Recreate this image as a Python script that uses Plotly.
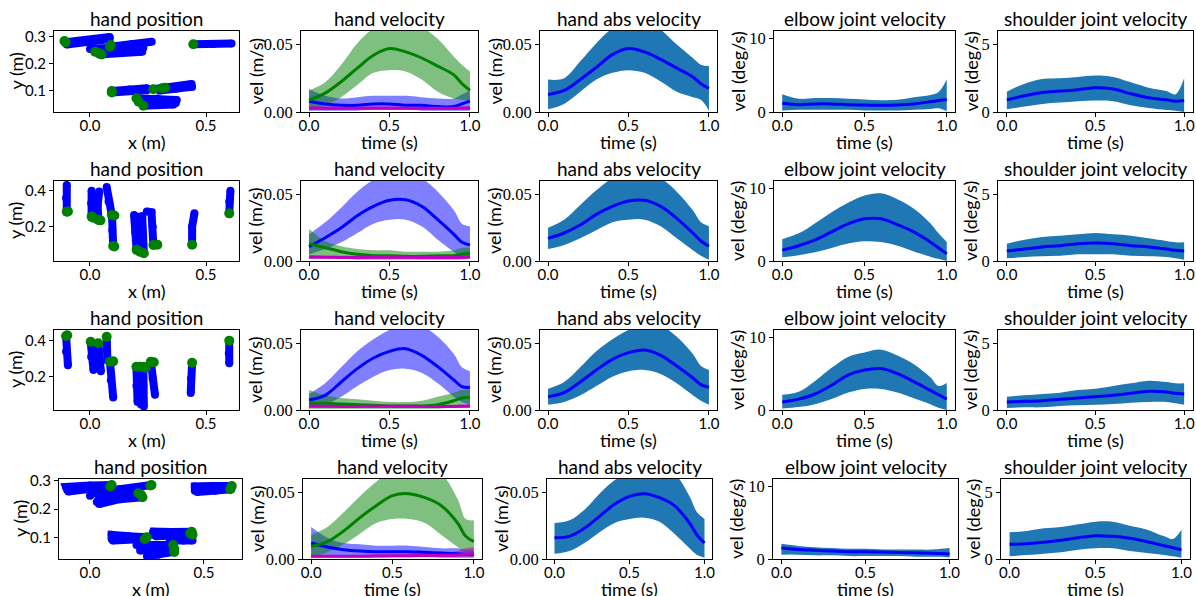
import plotly.graph_objects as go

W, H = 1196, 596

# ---------------- data ----------------
T = [0.0, 0.1, 0.2, 0.3, 0.4, 0.5, 0.6, 0.7, 0.8, 0.9, 0.95, 1.0]

# hand velocity, row 1..4 (blue, green, magenta components)
hv1_blue_mean = [0.008, 0.006, 0.005, 0.005, 0.006, 0.006, 0.005, 0.005, 0.004, 0.004, 0.006, 0.008]
hv1_blue_hi = [0.017, 0.012, 0.010, 0.011, 0.012, 0.012, 0.012, 0.011, 0.010, 0.010, 0.013, 0.016]
hv1_blue_lo = [0.001, 0.001, 0.001, 0.001, 0.002, 0.002, 0.002, 0.001, 0.001, 0.001, 0.001, 0.001]
hv1_green_mean = [0.009, 0.014, 0.0225, 0.0325, 0.042, 0.047, 0.0445, 0.040, 0.034, 0.0275, 0.021, 0.016]
hv1_green_hi = [0.016, 0.022, 0.035, 0.051, 0.062, 0.068, 0.068, 0.063, 0.054, 0.041, 0.035, 0.030]
hv1_green_lo = [0.001, 0.005, 0.011, 0.020, 0.029, 0.031, 0.030, 0.024, 0.015, 0.010, 0.009, 0.008]
hv1_mag_mean = [0.003, 0.0028, 0.0027, 0.0027, 0.0028, 0.0028, 0.0028, 0.0027, 0.0027, 0.0027, 0.0028, 0.003]
hv1_mag_hi = [0.0045, 0.004, 0.004, 0.004, 0.004, 0.004, 0.004, 0.004, 0.004, 0.004, 0.0042, 0.0045]
hv1_mag_lo = [0.0015, 0.0015, 0.0015, 0.0015, 0.0015, 0.0015, 0.0015, 0.0015, 0.0015, 0.0015, 0.0015, 0.0015]

hv2_blue_mean = [0.0108, 0.0175, 0.025, 0.034, 0.041, 0.0455, 0.046, 0.041, 0.031, 0.020, 0.014, 0.012]
hv2_blue_hi = [0.020, 0.029, 0.040, 0.052, 0.061, 0.066, 0.066, 0.062, 0.052, 0.038, 0.028, 0.026]
hv2_blue_lo = [0.005, 0.009, 0.014, 0.021, 0.028, 0.031, 0.031, 0.026, 0.016, 0.007, 0.003, 0.002]
hv2_green_mean = [0.013, 0.010, 0.007, 0.005, 0.004, 0.004, 0.0035, 0.0035, 0.004, 0.004, 0.005, 0.006]
hv2_green_hi = [0.024, 0.015, 0.011, 0.009, 0.008, 0.008, 0.007, 0.007, 0.007, 0.008, 0.010, 0.010]
hv2_green_lo = [0.003, 0.003, 0.002, 0.001, 0.001, 0.001, 0.001, 0.001, 0.001, 0.001, 0.001, 0.002]
hv2_mag_mean = [0.003, 0.0028, 0.0027, 0.0027, 0.0028, 0.0028, 0.0028, 0.0027, 0.0027, 0.0027, 0.0028, 0.003]
hv2_mag_hi = [0.0045, 0.004, 0.004, 0.004, 0.004, 0.004, 0.004, 0.004, 0.004, 0.004, 0.0042, 0.0045]
hv2_mag_lo = [0.0015, 0.0015, 0.0015, 0.0015, 0.0015, 0.0015, 0.0015, 0.0015, 0.0015, 0.0015, 0.0015, 0.0015]

hv3_blue_mean = [0.0075, 0.011, 0.021, 0.031, 0.039, 0.044, 0.046, 0.041, 0.0325, 0.0225, 0.0175, 0.017]
hv3_blue_hi = [0.012, 0.020, 0.032, 0.044, 0.053, 0.060, 0.064, 0.063, 0.055, 0.042, 0.032, 0.029]
hv3_blue_lo = [0.002, 0.004, 0.010, 0.018, 0.025, 0.030, 0.031, 0.028, 0.020, 0.010, 0.006, 0.004]
hv3_green_mean = [0.005, 0.005, 0.0045, 0.004, 0.0035, 0.003, 0.003, 0.003, 0.004, 0.007, 0.009, 0.0095]
hv3_green_hi = [0.015, 0.011, 0.009, 0.008, 0.007, 0.006, 0.006, 0.007, 0.010, 0.013, 0.015, 0.016]
hv3_green_lo = [0.001, 0.001, 0.001, 0.001, 0.001, 0.001, 0.001, 0.001, 0.001, 0.002, 0.004, 0.004]
hv3_mag_mean = [0.003, 0.0028, 0.0027, 0.0027, 0.0028, 0.0028, 0.0028, 0.0027, 0.0027, 0.0027, 0.0028, 0.003]
hv3_mag_hi = [0.0045, 0.004, 0.004, 0.004, 0.004, 0.004, 0.004, 0.004, 0.004, 0.004, 0.0042, 0.0045]
hv3_mag_lo = [0.0015, 0.0015, 0.0015, 0.0015, 0.0015, 0.0015, 0.0015, 0.0015, 0.0015, 0.0015, 0.0015, 0.0015]

hv4_blue_mean = [0.012, 0.009, 0.007, 0.006, 0.0055, 0.0055, 0.0055, 0.005, 0.0045, 0.004, 0.0035, 0.0035]
hv4_blue_hi = [0.024, 0.016, 0.012, 0.011, 0.010, 0.010, 0.010, 0.009, 0.008, 0.008, 0.007, 0.007]
hv4_blue_lo = [0.001, 0.002, 0.002, 0.002, 0.002, 0.002, 0.002, 0.002, 0.001, 0.001, 0.001, 0.001]
hv4_green_mean = [0.0094, 0.013, 0.021, 0.031, 0.040, 0.0475, 0.049, 0.046, 0.040, 0.027, 0.017, 0.013]
hv4_green_hi = [0.018, 0.024, 0.035, 0.047, 0.058, 0.066, 0.069, 0.069, 0.064, 0.045, 0.030, 0.029]
hv4_green_lo = [0.001, 0.005, 0.011, 0.019, 0.027, 0.030, 0.030, 0.027, 0.018, 0.009, 0.005, 0.004]
hv4_mag_mean = [0.002, 0.002, 0.002, 0.002, 0.0022, 0.0024, 0.0025, 0.0026, 0.0028, 0.003, 0.0035, 0.004]
hv4_mag_hi = [0.003, 0.003, 0.003, 0.003, 0.0035, 0.0035, 0.004, 0.004, 0.0045, 0.006, 0.008, 0.009]
hv4_mag_lo = [0.001, 0.001, 0.001, 0.001, 0.0012, 0.0012, 0.0012, 0.0013, 0.0014, 0.0015, 0.0015, 0.0015]

# hand abs velocity
abs1_mean = [0.013, 0.016, 0.024, 0.033, 0.0425, 0.047, 0.0445, 0.039, 0.0325, 0.026, 0.021, 0.0175]
abs1_hi = [0.024, 0.025, 0.0375, 0.051, 0.062, 0.068, 0.068, 0.061, 0.050, 0.040, 0.035, 0.034]
abs1_lo = [0.002, 0.006, 0.015, 0.024, 0.029, 0.031, 0.029, 0.0225, 0.015, 0.011, 0.009, 0.001]
abs2_mean = [0.017, 0.021, 0.027, 0.035, 0.041, 0.045, 0.0455, 0.041, 0.032, 0.021, 0.015, 0.011]
abs2_hi = [0.025, 0.031, 0.042, 0.053, 0.062, 0.066, 0.066, 0.062, 0.052, 0.038, 0.029, 0.026]
abs2_lo = [0.009, 0.012, 0.017, 0.023, 0.029, 0.031, 0.031, 0.026, 0.017, 0.008, 0.004, 0.001]
abs3_mean = [0.010, 0.013, 0.021, 0.030, 0.038, 0.043, 0.045, 0.041, 0.033, 0.024, 0.019, 0.017]
abs3_hi = [0.016, 0.021, 0.032, 0.044, 0.053, 0.060, 0.064, 0.063, 0.055, 0.042, 0.033, 0.030]
abs3_lo = [0.004, 0.006, 0.011, 0.018, 0.025, 0.029, 0.030, 0.027, 0.020, 0.011, 0.007, 0.004]
abs4_mean = [0.016, 0.017, 0.023, 0.032, 0.041, 0.047, 0.049, 0.046, 0.040, 0.027, 0.018, 0.012]
abs4_hi = [0.027, 0.029, 0.037, 0.049, 0.059, 0.066, 0.069, 0.068, 0.064, 0.047, 0.035, 0.030]
abs4_lo = [0.004, 0.006, 0.012, 0.020, 0.027, 0.030, 0.031, 0.028, 0.019, 0.008, 0.003, 0.001]

# elbow joint velocity (deg/s)
elb1_mean = [1.2, 1.0, 1.1, 1.1, 1.0, 0.95, 0.9, 0.95, 1.1, 1.4, 1.55, 1.7]
elb1_hi = [2.4, 1.8, 1.9, 1.9, 1.8, 1.7, 1.6, 1.65, 2.0, 2.3, 2.7, 4.4]
elb1_lo = [0.2, 0.3, 0.3, 0.3, 0.3, 0.2, 0.2, 0.2, 0.3, 0.4, 0.5, 0.1]
elb2_mean = [1.5, 2.1, 2.9, 4.0, 5.1, 5.8, 5.8, 5.0, 4.0, 2.6, 1.8, 1.0]
elb2_hi = [3.0, 3.8, 5.2, 6.7, 8.0, 9.0, 9.3, 8.5, 7.2, 5.2, 3.8, 2.6]
elb2_lo = [0.5, 0.8, 1.2, 1.8, 2.4, 2.7, 2.6, 2.1, 1.3, 0.6, 0.3, 0.0]
elb3_mean = [1.1, 1.5, 2.2, 3.4, 4.8, 5.5, 5.7, 5.0, 3.9, 2.7, 2.1, 1.5]
elb3_hi = [2.1, 2.5, 4.0, 5.8, 7.3, 7.9, 8.3, 7.5, 6.3, 4.5, 3.3, 3.7]
elb3_lo = [0.2, 0.4, 0.8, 1.5, 2.4, 2.9, 2.9, 2.4, 1.6, 0.8, 0.3, 0.0]
elb4_mean = [1.5, 1.3, 1.2, 1.1, 1.0, 1.0, 0.95, 0.9, 0.85, 0.8, 0.75, 0.7]
elb4_hi = [2.1, 1.8, 1.6, 1.5, 1.4, 1.4, 1.3, 1.3, 1.3, 1.3, 1.4, 1.5]
elb4_lo = [0.6, 0.6, 0.5, 0.5, 0.4, 0.4, 0.4, 0.4, 0.3, 0.3, 0.3, 0.2]

# shoulder joint velocity (deg/s)
sho1_mean = [0.9, 1.2, 1.45, 1.55, 1.65, 1.8, 1.7, 1.35, 1.05, 0.9, 0.8, 0.85]
sho1_hi = [1.5, 2.1, 2.45, 2.5, 2.6, 2.7, 2.6, 2.2, 1.8, 1.55, 1.3, 2.5]
sho1_lo = [0.2, 0.4, 0.6, 0.7, 0.8, 0.85, 0.8, 0.5, 0.3, 0.15, 0.1, 0.0]
sho2_mean = [0.75, 0.9, 1.05, 1.15, 1.3, 1.35, 1.3, 1.15, 1.05, 0.9, 0.8, 0.75]
sho2_hi = [1.3, 1.6, 1.8, 1.9, 2.0, 2.1, 2.0, 1.9, 1.7, 1.5, 1.4, 1.4]
sho2_lo = [0.2, 0.3, 0.35, 0.4, 0.5, 0.5, 0.5, 0.4, 0.35, 0.3, 0.2, 0.1]
sho3_mean = [0.6, 0.65, 0.7, 0.8, 0.9, 1.0, 1.1, 1.25, 1.4, 1.35, 1.25, 1.2]
sho3_hi = [1.0, 1.1, 1.2, 1.3, 1.5, 1.6, 1.8, 2.0, 2.2, 2.1, 2.0, 2.0]
sho3_lo = [0.15, 0.2, 0.2, 0.3, 0.35, 0.4, 0.45, 0.55, 0.6, 0.6, 0.5, 0.4]
sho4_mean = [1.1, 1.15, 1.25, 1.4, 1.6, 1.75, 1.7, 1.55, 1.3, 1.0, 0.85, 0.7]
sho4_hi = [2.0, 2.1, 2.3, 2.4, 2.6, 2.8, 2.8, 2.5, 2.2, 1.7, 1.5, 2.2]
sho4_lo = [0.2, 0.3, 0.4, 0.5, 0.7, 0.8, 0.8, 0.6, 0.45, 0.3, 0.2, 0.1]

# hand position trajectories (m) and start points
pos1_traj_x = [[-0.105, 0.0, 0.085], [-0.10, 0.0, 0.085], [0.086, 0.18, 0.266], [0.0, 0.12, 0.23],
               [0.022, 0.12, 0.225], [0.04, 0.13, 0.225], [0.445, 0.53, 0.61], [0.094, 0.17, 0.245],
               [0.094, 0.17, 0.245], [0.273, 0.36, 0.438], [0.30, 0.37, 0.44], [0.20, 0.29, 0.374],
               [0.21, 0.29, 0.37], [0.23, 0.30, 0.36]]
pos1_traj_y = [[0.280, 0.288, 0.300], [0.272, 0.280, 0.292], [0.264, 0.274, 0.282], [0.255, 0.262, 0.260],
               [0.245, 0.250, 0.253], [0.235, 0.242, 0.245], [0.273, 0.274, 0.276], [0.100, 0.105, 0.110],
               [0.094, 0.100, 0.103], [0.106, 0.115, 0.126], [0.102, 0.108, 0.115], [0.073, 0.072, 0.066],
               [0.060, 0.060, 0.055], [0.045, 0.050, 0.050]]
pos1_start_x = [-0.105, -0.11, 0.086, 0.09, 0.022, 0.04, 0.05, 0.445, 0.094, 0.094, 0.273, 0.31, 0.323, 0.20, 0.21, 0.23]
pos1_start_y = [0.280, 0.285, 0.264, 0.270, 0.245, 0.240, 0.235, 0.273, 0.100, 0.094, 0.106, 0.110, 0.112, 0.073, 0.060, 0.045]

pos2_traj_x = [[-0.10, -0.103, -0.10], [0.007, 0.005, 0.007], [0.036, 0.033, 0.04], [0.094, 0.08, 0.072],
               [0.10, 0.096, 0.095], [0.201, 0.195, 0.19], [0.215, 0.212, 0.21], [0.232, 0.228, 0.225],
               [0.273, 0.27, 0.265, 0.245], [0.44, 0.44, 0.45], [0.60, 0.60, 0.605]]
pos2_traj_y = [[0.283, 0.36, 0.432], [0.256, 0.33, 0.40], [0.237, 0.32, 0.395], [0.265, 0.34, 0.42],
               [0.093, 0.18, 0.26], [0.071, 0.17, 0.265], [0.060, 0.16, 0.255], [0.052, 0.16, 0.26],
               [0.098, 0.20, 0.28, 0.285], [0.10, 0.20, 0.274], [0.274, 0.34, 0.40]]
pos2_start_x = [-0.10, -0.095, 0.007, 0.015, 0.036, 0.045, 0.094, 0.105, 0.10, 0.105, 0.201, 0.215, 0.232, 0.273, 0.29, 0.44, 0.60]
pos2_start_y = [0.283, 0.285, 0.256, 0.250, 0.237, 0.235, 0.265, 0.262, 0.093, 0.090, 0.071, 0.060, 0.052, 0.098, 0.100, 0.100, 0.274]

pos3_traj_x = [[-0.103, -0.103, -0.095], [0.003, 0.005, 0.015], [0.036, 0.038, 0.047], [0.072, 0.072, 0.075],
               [0.086, 0.09, 0.10], [0.20, 0.20, 0.205], [0.215, 0.215, 0.22], [0.23, 0.23, 0.232],
               [0.262, 0.27, 0.28], [0.44, 0.435, 0.434], [0.60, 0.598, 0.60]]
pos3_traj_y = [[0.426, 0.34, 0.264], [0.394, 0.31, 0.237], [0.385, 0.30, 0.23], [0.422, 0.35, 0.29],
               [0.283, 0.18, 0.085], [0.255, 0.15, 0.06], [0.255, 0.15, 0.045], [0.255, 0.15, 0.035],
               [0.283, 0.19, 0.10], [0.277, 0.19, 0.11], [0.40, 0.33, 0.275]]
pos3_start_x = [-0.103, -0.098, 0.003, 0.036, 0.072, 0.086, 0.10, 0.20, 0.215, 0.23, 0.24, 0.262, 0.275, 0.44, 0.60]
pos3_start_y = [0.426, 0.430, 0.394, 0.385, 0.422, 0.283, 0.285, 0.255, 0.255, 0.255, 0.250, 0.283, 0.280, 0.277, 0.400]

pos4_traj_x = [[-0.10, -0.105, 0.0, 0.095], [-0.095, 0.0, 0.09], [0.0, 0.01, 0.13, 0.27],
               [0.03, 0.04, 0.13, 0.212], [0.04, 0.13, 0.23], [0.46, 0.46, 0.54, 0.622], [0.47, 0.55, 0.62],
               [0.095, 0.095, 0.17, 0.249], [0.10, 0.17, 0.24], [0.275, 0.278, 0.36, 0.446],
               [0.29, 0.36, 0.45], [0.35, 0.41, 0.45], [0.204, 0.28, 0.365], [0.22, 0.29, 0.37], [0.25, 0.30, 0.37]]
pos4_traj_y = [[0.268, 0.278, 0.283, 0.285], [0.262, 0.272, 0.28], [0.247, 0.255, 0.27, 0.285],
               [0.225, 0.235, 0.245, 0.256], [0.218, 0.235, 0.242], [0.265, 0.28, 0.281, 0.281], [0.26, 0.265, 0.27],
               [0.095, 0.11, 0.105, 0.101], [0.09, 0.095, 0.095], [0.11, 0.121, 0.12, 0.121],
               [0.105, 0.105, 0.11], [0.09, 0.09, 0.09], [0.074, 0.074, 0.074], [0.055, 0.06, 0.06], [0.035, 0.04, 0.05]]
pos4_start_x = [0.095, 0.09, 0.27, 0.265, 0.212, 0.23, 0.225, 0.622, 0.615, 0.249, 0.24, 0.446, 0.45, 0.44, 0.365, 0.37, 0.37]
pos4_start_y = [0.285, 0.28, 0.285, 0.283, 0.256, 0.242, 0.250, 0.281, 0.270, 0.101, 0.095, 0.121, 0.11, 0.115, 0.074, 0.06, 0.05]

titles = ["hand position", "hand velocity", "hand abs velocity", "elbow joint velocity", "shoulder joint velocity"]
xlabels = ["x (m)", "time (s)", "time (s)", "time (s)", "time (s)"]
ylabels = ["y (m)", "vel (m/s)", "vel (m/s)", "vel (deg/s)", "vel (deg/s)"]

# ---------------- layout geometry (pixels) ----------------
cols_top = [(54, 239), (301, 478), (540, 717), (774, 955), (998, 1193)]
cols_bot = [(59, 242), (303, 482), (547, 712), (773, 958), (1001, 1190)]
rows = [(31, 112), (181, 261), (330, 410), (479, 559)]
ylab_off = [39, 46, 46, 37, 28]

pos_xr = [[-0.155, 0.642], [-0.155, 0.642], [-0.155, 0.642], [-0.136, 0.667]]
pos_yr = [[0.022, 0.322], [0.009, 0.454], [0.015, 0.459], [0.025, 0.306]]
pos_yt = [[0.1, 0.2, 0.3], [0.2, 0.4], [0.2, 0.4], [0.1, 0.2, 0.3]]

SANS = "Lato"
SERIF = "Liberation Serif"

fig = go.Figure()
layout = dict(template="none", width=W, height=H, autosize=False, margin=dict(l=0, r=0, t=0, b=0, pad=0),
              plot_bgcolor="white", paper_bgcolor="white", showlegend=False)
annotations = []

def ax_common():
    return dict(showline=True, mirror=True, linecolor="black", linewidth=1,
                ticks="outside", ticklen=4, tickcolor="black", tickwidth=1,
                showgrid=False, zeroline=False, automargin=False)

hv = [
    [(hv1_blue_mean, hv1_blue_lo, hv1_blue_hi), (hv1_green_mean, hv1_green_lo, hv1_green_hi), (hv1_mag_mean, hv1_mag_lo, hv1_mag_hi)],
    [(hv2_blue_mean, hv2_blue_lo, hv2_blue_hi), (hv2_green_mean, hv2_green_lo, hv2_green_hi), (hv2_mag_mean, hv2_mag_lo, hv2_mag_hi)],
    [(hv3_blue_mean, hv3_blue_lo, hv3_blue_hi), (hv3_green_mean, hv3_green_lo, hv3_green_hi), (hv3_mag_mean, hv3_mag_lo, hv3_mag_hi)],
    [(hv4_blue_mean, hv4_blue_lo, hv4_blue_hi), (hv4_green_mean, hv4_green_lo, hv4_green_hi), (hv4_mag_mean, hv4_mag_lo, hv4_mag_hi)],
]
absd = [(abs1_mean, abs1_lo, abs1_hi), (abs2_mean, abs2_lo, abs2_hi), (abs3_mean, abs3_lo, abs3_hi), (abs4_mean, abs4_lo, abs4_hi)]
elbd = [(elb1_mean, elb1_lo, elb1_hi), (elb2_mean, elb2_lo, elb2_hi), (elb3_mean, elb3_lo, elb3_hi), (elb4_mean, elb4_lo, elb4_hi)]
shod = [(sho1_mean, sho1_lo, sho1_hi), (sho2_mean, sho2_lo, sho2_hi), (sho3_mean, sho3_lo, sho3_hi), (sho4_mean, sho4_lo, sho4_hi)]
posd = [(pos1_traj_x, pos1_traj_y, pos1_start_x, pos1_start_y),
        (pos2_traj_x, pos2_traj_y, pos2_start_x, pos2_start_y),
        (pos3_traj_x, pos3_traj_y, pos3_start_x, pos3_start_y),
        (pos4_traj_x, pos4_traj_y, pos4_start_x, pos4_start_y)]

BLUE = "#0000ff"
GREEN = "#008000"
MAG = "#bf00bf"
BAND = {BLUE: "rgba(0,0,255,0.5)", GREEN: "rgba(0,128,0,0.5)", MAG: "rgba(191,0,191,0.5)"}

def band(xa, ya, lo, hi, fillcolor):
    fig.add_trace(go.Scatter(x=T, y=lo, mode="lines", line=dict(width=0, shape="spline"),
                             xaxis=xa, yaxis=ya, hoverinfo="skip"))
    fig.add_trace(go.Scatter(x=T, y=hi, mode="lines", line=dict(width=0, shape="spline"),
                             fill="tonexty", fillcolor=fillcolor, xaxis=xa, yaxis=ya, hoverinfo="skip"))

def meanline(xa, ya, m, color):
    fig.add_trace(go.Scatter(x=T, y=m, mode="lines", line=dict(width=3, color=color, shape="spline"),
                             xaxis=xa, yaxis=ya, hoverinfo="skip"))

for r in range(4):
    cols = cols_bot if r == 3 else cols_top
    top, bot = rows[r]
    for c in range(5):
        idx = r * 5 + c + 1
        xa = "x" if idx == 1 else f"x{idx}"
        ya = "y" if idx == 1 else f"y{idx}"
        left, right = cols[c]
        xd = [left / W, right / W]
        yd = [1 - bot / H, 1 - top / H]
        xax = ax_common()
        yax = ax_common()
        xax.update(domain=xd, anchor=ya, ticklabelstandoff=-4,
                   tickfont=dict(family=SANS, size=15, color="black"))
        yax.update(domain=yd, anchor=xa)
        if c == 0:
            xax.update(range=pos_xr[r], tickvals=[0.0, 0.5], ticktext=["0.0", "0.5"])
            yax.update(range=pos_yr[r], tickvals=pos_yt[r], ticktext=[f"{v:.1f}" for v in pos_yt[r]],
                       tickfont=dict(family=SANS, size=15, color="black"))
            tx, ty, sx, sy = posd[r]
            for xs, ys in zip(tx, ty):
                fig.add_trace(go.Scatter(x=xs, y=ys, mode="lines+markers", line=dict(width=8, color=BLUE),
                                         marker=dict(size=8, color=BLUE, line=dict(width=0)),
                                         xaxis=xa, yaxis=ya, hoverinfo="skip"))
            fig.add_trace(go.Scatter(x=sx, y=sy, mode="markers", marker=dict(size=10, color=GREEN, line=dict(width=0)),
                                     xaxis=xa, yaxis=ya, hoverinfo="skip"))
        else:
            xax.update(range=[-0.05, 1.05], tickvals=[0.0, 0.5, 1.0], ticktext=["0.0", "0.5", "1.0"])
            if c == 1:
                yax.update(range=[0, 0.06], tickvals=[0.0, 0.05], ticktext=["0.00", "0.05"])
                for (m, lo, hi), col in zip(hv[r], [BLUE, GREEN, MAG]):
                    band(xa, ya, lo, hi, BAND[col])
                for (m, lo, hi), col in zip(hv[r], [BLUE, GREEN, MAG]):
                    meanline(xa, ya, m, col)
            elif c == 2:
                yax.update(range=[0, 0.06], tickvals=[0.0, 0.05], ticktext=["0.00", "0.05"])
                m, lo, hi = absd[r]
                band(xa, ya, lo, hi, "#1f77b4")
                meanline(xa, ya, m, BLUE)
            elif c == 3:
                yax.update(range=[0, 11], tickvals=[0, 10], ticktext=["0", "10"])
                m, lo, hi = elbd[r]
                band(xa, ya, lo, hi, "#1f77b4")
                meanline(xa, ya, m, BLUE)
            else:
                yax.update(range=[0, 6], tickvals=[0, 5], ticktext=["0", "5"])
                m, lo, hi = shod[r]
                band(xa, ya, lo, hi, "#1f77b4")
                meanline(xa, ya, m, BLUE)
            yax.update(tickfont=dict(family=SERIF, size=16.5, color="black"))
        layout["xaxis" if idx == 1 else f"xaxis{idx}"] = xax
        layout["yaxis" if idx == 1 else f"yaxis{idx}"] = yax

        cx = (left + right) / 2 / W
        annotations.append(dict(text=titles[c], x=cx, y=1 - (top + 1) / H, xref="paper", yref="paper",
                                xanchor="center", yanchor="bottom", showarrow=False,
                                font=dict(family=SANS, size=19, color="black")))
        annotations.append(dict(text=xlabels[c], x=cx, y=1 - (bot + 30) / H, xref="paper", yref="paper",
                                xanchor="center", yanchor="middle", showarrow=False,
                                font=dict(family=SANS, size=18, color="black")))
        annotations.append(dict(text=ylabels[c], x=(left - ylab_off[c]) / W, y=1 - (top + bot) / 2 / H,
                                xref="paper", yref="paper", xanchor="center", yanchor="middle",
                                textangle=-90, showarrow=False,
                                font=dict(family=SANS, size=18, color="black")))

layout["annotations"] = annotations
fig.update_layout(**layout)
fig.write_html("out.html", config={"displayModeBar": False, "staticPlot": True},
               post_script="document.body.style.margin='0';document.body.style.overflow='hidden';")
